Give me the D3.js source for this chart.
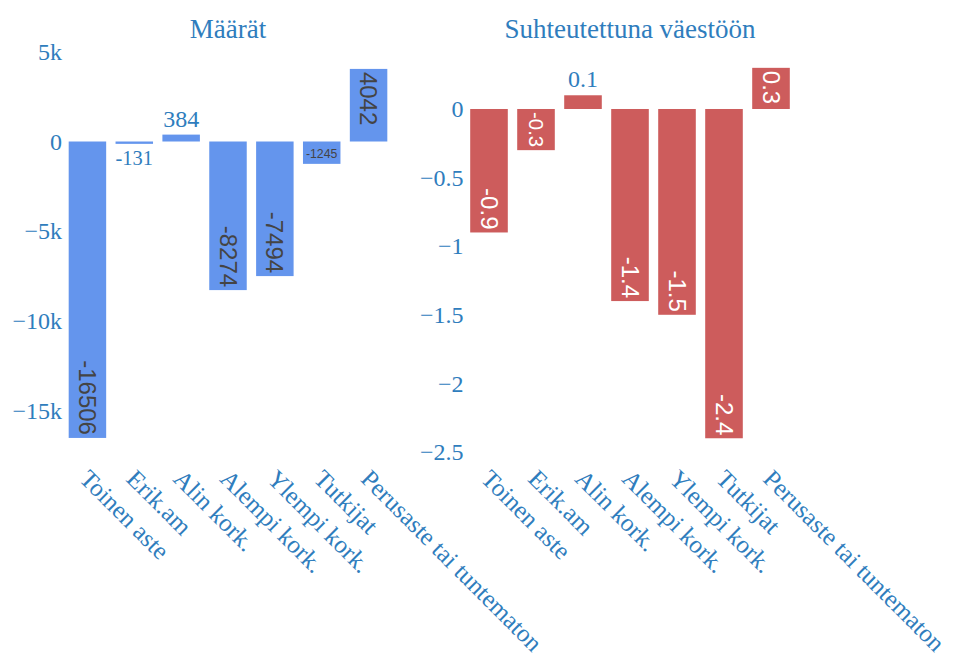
<!DOCTYPE html>
<meta charset="utf-8">
<script src="https://d3js.org/d3.v7.min.js"></script>
<style>
  body { margin: 0; background: #fff; }
</style>
<div id="chart"></div>
<script>
  // data
  var categories = ["Toinen aste", "Erik.am", "Alin kork.", "Alempi kork.", "Ylempi kork.", "Tutkijat", "Perusaste tai tuntematon"]
  var maarat = [-16506, -131, 384, -8274, -7494, -1245, 4042]
  var suhteutettu = [-0.9, -0.3, 0.1, -1.4, -1.5, -2.4, 0.3]
  var titles = ["Määrät", "Suhteutettuna väestöön"]
  var maaratTicks = [5000, 0, -5000, -10000, -15000]
  var suhteTicks = [0, -0.5, -1, -1.5, -2, -2.5]

  var width = 955, height = 668
  var fontColor = "#2f7dbd"
  var serif = "'Liberation Serif', 'Times New Roman', serif"
  var sans = "'Liberation Sans', Arial, sans-serif"
  var baseSize = 24
  var pad = 3

  var svg = d3.select("#chart").append("svg")
    .attr("width", width)
    .attr("height", height)

  var plotTop = 50, plotBottom = 455

  var panels = [
    { title: titles[0], values: maarat, ticks: maaratTicks, x0: 64, x1: 392,
      range: [-17456, 5095], color: "#6495ED", insideColor: "#444",
      fmt: function(d){ return d == 0 ? "0" : (d / 1000 + "k").replace("-", "\u2212") } },
    { title: titles[1], values: suhteutettu, ticks: suhteTicks, x0: 465.5, x1: 794.5,
      range: [-2.522, 0.43], color: "#CD5C5C", insideColor: "#fff",
      fmt: function(d){ return String(d).replace("-", "\u2212") } }
  ]

  panels.forEach(function(p){
    var x = d3.scaleBand()
      .domain(categories)
      .range([p.x0, p.x1])
      .paddingInner(0.2)
      .paddingOuter(0.1)

    var y = d3.scaleLinear()
      .domain(p.range)
      .range([plotBottom, plotTop])

    var g = svg.append("g")

    // title
    g.append("text")
      .attr("x", (p.x0 + p.x1) / 2)
      .attr("y", 38)
      .attr("text-anchor", "middle")
      .style("font-family", serif)
      .style("font-size", "27px")
      .style("fill", fontColor)
      .text(p.title)

    // y axis
    var yAxis = d3.axisLeft(y)
      .tickValues(p.ticks)
      .tickFormat(p.fmt)
      .tickSize(0)
      .tickPadding(2)
    var ya = g.append("g")
      .attr("transform", "translate(" + p.x0 + ",0)")
      .call(yAxis)
    ya.select(".domain").remove()
    ya.selectAll("text")
      .style("font-family", serif)
      .style("font-size", baseSize + "px")
      .style("fill", fontColor)

    // x axis labels
    var xa = g.append("g")
      .attr("transform", "translate(0," + 474 + ")")
    xa.selectAll("text")
      .data(categories)
      .enter()
      .append("text")
        .attr("transform", function(d){ return "translate(" + (x(d) + x.bandwidth() / 2 - 3) + ",0) rotate(45)" })
        .attr("dy", "0.35em")
        .attr("text-anchor", "start")
        .style("font-family", serif)
        .style("font-size", "25px")
        .style("fill", fontColor)
        .text(function(d){ return d })

    // bars
    var data = categories.map(function(c, i){ return { cat: c, v: p.values[i] } })
    g.append("g")
      .selectAll("rect")
      .data(data)
      .enter()
      .append("rect")
        .attr("x", function(d){ return x(d.cat) })
        .attr("width", x.bandwidth())
        .attr("y", function(d){ return Math.min(y(d.v), y(0)) })
        .attr("height", function(d){ return Math.abs(y(d.v) - y(0)) })
        .style("fill", p.color)

    // bar labels, plotly "auto" style
    var lg = g.append("g")
    data.forEach(function(d){
      var bx = x(d.cat), bw = x.bandwidth()
      var y0 = Math.min(y(d.v), y(0)), y1 = Math.max(y(d.v), y(0))
      var bh = y1 - y0
      var neg = d.v < 0
      var t = lg.append("text")
        .attr("text-anchor", "middle")
        .style("font-family", sans)
        .style("font-size", baseSize + "px")
        .text(String(d.v))
      var bb = t.node().getBBox()
      var tw = bb.width, th = bb.height
      var fits = (tw <= bw && th <= bh) || (tw <= bh && th <= bw) || (bh >= th * (bw / tw))
      var rotate = false, scale = 1, inside = fits
      if (inside) {
        var lx = bw - 2 * pad, ly = bh - 2 * pad
        if (tw <= lx && th <= ly) { rotate = false; scale = 1 }
        else if (tw <= ly && th <= lx) { rotate = true; scale = 1 }
        else {
          var sh = Math.min(lx / tw, ly / th)
          var sr = Math.min(ly / tw, lx / th)
          if (sr > sh) { rotate = true; scale = sr } else { rotate = false; scale = sh }
        }
        t.style("fill", p.insideColor)
      } else {
        t.style("font-family", serif)
        bb = t.node().getBBox()
        tw = bb.width; th = bb.height
        scale = Math.min(1, bw / tw)
        t.style("fill", fontColor)
      }
      t.style("font-size", (baseSize * scale) + "px")
      bb = t.node().getBBox()
      var bcx = bb.x + bb.width / 2, bcy = bb.y + bb.height / 2
      var H = rotate ? bb.width : bb.height
      var cx = bx + bw / 2, cy
      if (inside) cy = neg ? y1 - pad - H / 2 : y0 + pad + H / 2
      else cy = neg ? y1 + pad + H / 2 : y0 - pad - H / 2
      t.attr("transform", "translate(" + cx + "," + cy + ")" + (rotate ? " rotate(90)" : "") +
        " translate(" + (-bcx) + "," + (-bcy) + ")")
    })
  })
</script>
